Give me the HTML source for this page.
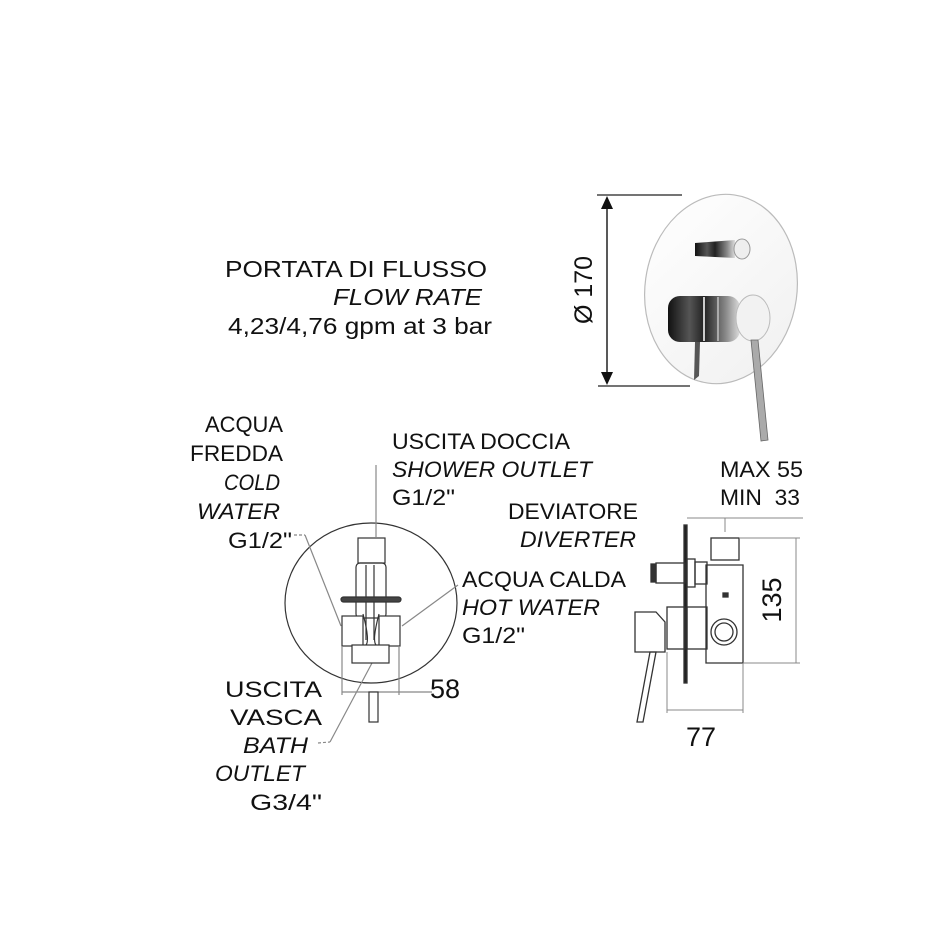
<!DOCTYPE html>
<html><head><style>
body{margin:0;background:#fff}
svg{display:block}
text{font-family:"Liberation Sans",Arial,sans-serif;fill:#111}
.i{font-style:italic}
</style></head><body>
<svg width="950" height="950" viewBox="0 0 950 950" xmlns="http://www.w3.org/2000/svg">
<defs>
<linearGradient id="chrome" x1="0" y1="0" x2="1" y2="0">
<stop offset="0" stop-color="#111"/><stop offset="0.3" stop-color="#555"/><stop offset="0.5" stop-color="#222"/><stop offset="0.8" stop-color="#888"/><stop offset="1" stop-color="#ddd"/>
</linearGradient>
<linearGradient id="plate" x1="0" y1="0" x2="1" y2="1">
<stop offset="0" stop-color="#fff"/><stop offset="1" stop-color="#f0f0f0"/>
</linearGradient>
</defs>
<!-- Top text -->
<g font-size="23.5">
<text x="225" y="277" textLength="262" lengthAdjust="spacingAndGlyphs">PORTATA DI FLUSSO</text>
<text x="333" y="305" textLength="149" lengthAdjust="spacingAndGlyphs" class="i">FLOW RATE</text>
<text x="228" y="334" textLength="264" lengthAdjust="spacingAndGlyphs">4,23/4,76 gpm at 3 bar</text>
</g>

<!-- Top faucet -->
<line x1="597" y1="195" x2="682" y2="195" stroke="#222" stroke-width="1.2"/>
<line x1="598" y1="386" x2="690" y2="386" stroke="#222" stroke-width="1.2"/>
<line x1="607" y1="200" x2="607" y2="381" stroke="#222" stroke-width="1.5"/>
<polygon points="607,196 601,209 613,209" fill="#111"/>
<polygon points="607,385 601,372 613,372" fill="#111"/>
<text transform="translate(592,290) rotate(-90)" font-size="25" text-anchor="middle">Ø 170</text>
<ellipse cx="721" cy="289" rx="76" ry="95" fill="url(#plate)" stroke="#bbb" stroke-width="1.2" transform="rotate(8 721 289)"/>
<path d="M695,243 L735,240 L735,258 L695,256 Z" fill="url(#chrome)"/>
<ellipse cx="742" cy="249" rx="8" ry="10" fill="#eee" stroke="#999"/>
<rect x="668" y="296" width="72" height="46" rx="12" fill="url(#chrome)"/>
<line x1="704" y1="297" x2="704" y2="341" stroke="#ccc" stroke-width="2"/>
<line x1="718" y1="297" x2="718" y2="341" stroke="#aaa" stroke-width="2"/>
<ellipse cx="753" cy="318" rx="17" ry="23" fill="#f2f2f2" stroke="#bbb"/>
<path d="M695,342 L700,342 L699,376 L694,380 Z" fill="#555"/>
<path d="M751,340 L758,340 L768,440 L761,441 Z" fill="#aaa" stroke="#666" stroke-width="0.8"/>

<!-- Labels -->
<g font-size="22">
<text x="205" y="432" textLength="78" lengthAdjust="spacingAndGlyphs">ACQUA</text>
<text x="190" y="461" textLength="93" lengthAdjust="spacingAndGlyphs">FREDDA</text>
<text x="224" y="490" textLength="56" lengthAdjust="spacingAndGlyphs" class="i">COLD</text>
<text x="197" y="519" textLength="83" lengthAdjust="spacingAndGlyphs" class="i">WATER</text>
<text x="228" y="548" textLength="64" lengthAdjust="spacingAndGlyphs">G1/2"</text>
<text x="225" y="697" textLength="97" lengthAdjust="spacingAndGlyphs">USCITA</text>
<text x="230" y="725" textLength="92" lengthAdjust="spacingAndGlyphs">VASCA</text>
<text x="243" y="753" textLength="65" lengthAdjust="spacingAndGlyphs" class="i">BATH</text>
<text x="215" y="781" textLength="90" lengthAdjust="spacingAndGlyphs" class="i">OUTLET</text>
<text x="250" y="810" textLength="72" lengthAdjust="spacingAndGlyphs">G3/4"</text>
<text x="392" y="449" textLength="178" lengthAdjust="spacingAndGlyphs">USCITA DOCCIA</text>
<text x="392" y="477" textLength="200" lengthAdjust="spacingAndGlyphs" class="i">SHOWER OUTLET</text>
<text x="392" y="505" textLength="63" lengthAdjust="spacingAndGlyphs">G1/2"</text>
<text x="462" y="587" textLength="164" lengthAdjust="spacingAndGlyphs">ACQUA CALDA</text>
<text x="462" y="615" textLength="138" lengthAdjust="spacingAndGlyphs" class="i">HOT WATER</text>
<text x="462" y="643" textLength="63" lengthAdjust="spacingAndGlyphs">G1/2"</text>
<text x="720" y="477" textLength="83" lengthAdjust="spacingAndGlyphs">MAX 55</text>
<text x="720" y="505" textLength="80" lengthAdjust="spacingAndGlyphs" xml:space="preserve">MIN  33</text>
<text x="508" y="519" textLength="130" lengthAdjust="spacingAndGlyphs">DEVIATORE</text>
<text x="520" y="547" textLength="116" lengthAdjust="spacingAndGlyphs" class="i">DIVERTER</text>
</g>

<!-- Front view drawing -->
<g stroke="#333" fill="none" stroke-width="1.2">
<ellipse cx="371" cy="603" rx="86" ry="80"/>
<line x1="376" y1="465" x2="376" y2="537" stroke="#888"/>
<line x1="294" y1="535" x2="305" y2="535" stroke="#888" stroke-dasharray="3,2"/>
<line x1="305" y1="535" x2="341" y2="626" stroke="#888"/>
<line x1="458" y1="585" x2="402" y2="626" stroke="#888"/>
<line x1="372" y1="663" x2="330" y2="742" stroke="#888"/>
<line x1="318" y1="743" x2="330" y2="742" stroke="#888" stroke-dasharray="3,2"/>
<rect x="358" y="538" width="27" height="25" fill="#fff"/>
<rect x="356" y="563" width="30" height="55" rx="4"/>
<line x1="366" y1="565" x2="366" y2="640"/>
<line x1="374" y1="565" x2="374" y2="640"/>
<rect x="341" y="597" width="60" height="5" rx="2.5" fill="#444"/>
<rect x="342" y="616" width="21" height="30" fill="#fff"/>
<rect x="379" y="616" width="21" height="30" fill="#fff"/>
<rect x="352" y="645" width="37" height="18" fill="#fff"/>
<path d="M363,614 Q370,640 366,645 M379,614 Q372,640 376,645"/>
<line x1="342" y1="646" x2="342" y2="695" stroke="#888"/>
<line x1="399" y1="646" x2="399" y2="695" stroke="#888"/>
<line x1="342" y1="692" x2="432" y2="692" stroke="#888"/>
<rect x="369" y="692" width="9" height="30" fill="#fff"/>
</g>
<text x="430" y="698" font-size="27">58</text>

<!-- Side view drawing -->
<g stroke="#333" fill="none" stroke-width="1.3">
<rect x="684" y="525" width="3" height="158" fill="#222"/>
<rect x="711" y="538" width="28" height="22"/>
<path d="M706,565 L743,565 L743,645 L743,663 L706,663 Z"/>
<circle cx="724" cy="632" r="13"/>
<circle cx="724" cy="632" r="9"/>
<rect x="656" y="563" width="29" height="20"/>
<rect x="651" y="564" width="5" height="18" fill="#333"/>
<rect x="687" y="559" width="8" height="28"/>
<rect x="695" y="562" width="12" height="22"/>
<rect x="723" y="593" width="5" height="4" fill="#333"/>
<rect x="667" y="607" width="18" height="42"/>
<rect x="687" y="607" width="20" height="42"/>
<path d="M635,612 L656,612 L665,622 L665,652 L635,652 Z"/>
<path d="M650,652 L656,652 L643,722 L637,722 Z"/>
<line x1="687" y1="518" x2="803" y2="518" stroke="#888" stroke-width="1"/>
<line x1="725" y1="518" x2="725" y2="532" stroke="#888" stroke-width="1"/>
<line x1="739" y1="538" x2="800" y2="538" stroke="#888" stroke-width="1"/>
<line x1="743" y1="663" x2="800" y2="663" stroke="#888" stroke-width="1"/>
<line x1="796" y1="538" x2="796" y2="663" stroke="#888" stroke-width="1"/>
<line x1="667" y1="652" x2="667" y2="713" stroke="#888" stroke-width="1"/>
<line x1="743" y1="663" x2="743" y2="713" stroke="#888" stroke-width="1"/>
<line x1="667" y1="710" x2="743" y2="710" stroke="#888" stroke-width="1"/>
</g>
<text transform="translate(781,600) rotate(-90)" font-size="27" text-anchor="middle">135</text>
<text x="686" y="746" font-size="27">77</text>
</svg>
</body></html>
